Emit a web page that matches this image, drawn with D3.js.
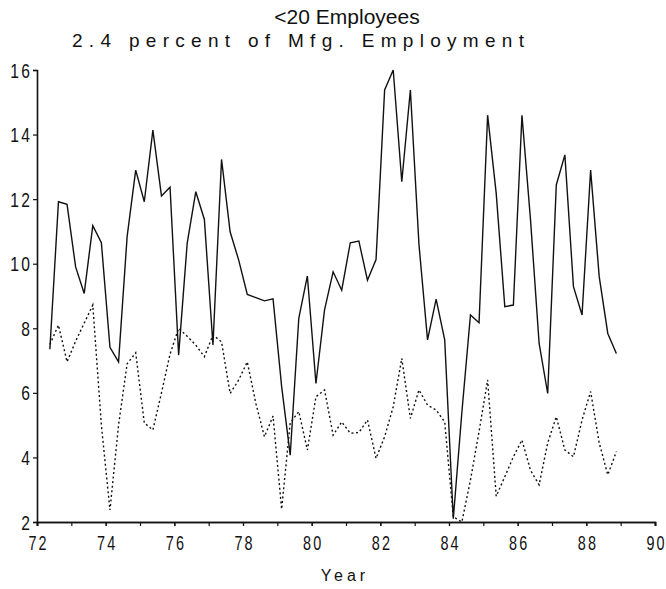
<!DOCTYPE html>
<html><head><meta charset="utf-8">
<script src="https://cdn.jsdelivr.net/npm/d3@7"></script>
<style>
body{margin:0;background:#fff;}
svg{display:block;}
.tick text{font-family:"Liberation Sans","DejaVu Sans",sans-serif;font-size:20px;fill:#111;}
</style></head>
<body>
<svg id="chart" width="666" height="589"></svg>
<script>
// Quarterly observations, 1972 Q2 through 1988 Q4 (plotted at quarter midpoints)
const startYear = 72.375;
const solidSeries = [7.35, 11.92, 11.84, 9.9, 9.08, 11.18, 10.65, 7.41, 6.96, 10.84,
  12.9, 11.92, 14.14, 12.1, 12.37, 7.17, 10.64, 12.23, 11.37, 7.48,
  13.23, 10.99, 10.11, 9.05, 8.95, 8.85, 8.91, 6.2, 4.07, 8.31,
  9.62, 6.29, 8.57, 9.75, 9.18, 10.65, 10.7, 9.49, 10.13, 15.38,
  16.0, 12.54, 15.38, 10.6, 7.64, 8.9, 7.64, 2.1, 5.4, 8.41,
  8.17, 14.6, 12.18, 8.67, 8.72, 14.6, 11.35, 7.53, 5.98, 12.44,
  13.37, 9.29, 8.41, 12.9, 9.6, 7.84, 7.22];
const dottedSeries = [7.5, 8.1, 6.96, 7.6, 8.16, 8.72, 5.0, 2.37, 5.0, 6.9,
  7.24, 5.07, 4.85, 6.0, 7.2, 8.0, 7.75, 7.48, 7.12, 7.79,
  7.58, 5.98, 6.4, 6.96, 5.67, 4.64, 5.28, 2.4, 5.07, 5.42,
  4.23, 5.88, 6.09, 4.69, 5.1, 4.75, 4.77, 5.16, 3.97, 4.64,
  5.57, 7.07, 5.21, 6.09, 5.62, 5.47, 5.1, 2.16, 2.0, 3.3,
  4.8, 6.4, 2.8, 3.4, 4.02, 4.54, 3.6, 3.15, 4.45, 5.26,
  4.23, 4.02, 5.16, 6.04, 4.45, 3.46, 4.18];
const xTickValues = [72, 74, 76, 78, 80, 82, 84, 86, 88, 90];
const xMinorTicks = [72,73,74,75,76,77,78,79,80,81,82,83,84,85,86,87,88,89,90];
const yTickValues = [2, 4, 6, 8, 10, 12, 14, 16];
const titleText = "<20 Employees";
const subtitleText = "2.4 percent of Mfg. Employment";
const xLabel = "Year";

const svg = d3.select("#chart");
const x = d3.scaleLinear().domain([72, 90]).range([37, 655]);
const y = d3.scaleLinear().domain([2, 16]).range([522, 70]);
const yearOf = i => startYear + 0.25 * i;
const narrowX = 0.72, narrowY = 0.78;

// axes
const xAxisMinor = d3.axisBottom(x).tickValues(xMinorTicks).tickSize(4).tickFormat("");
const xAxis = d3.axisBottom(x).tickValues(xTickValues).tickSize(4).tickPadding(10).tickFormat(d3.format("d"));
const yAxis = d3.axisLeft(y).tickValues(yTickValues).tickSize(4).tickPadding(3);

const gxm = svg.append("g").attr("transform", `translate(0,${y(2)})`).call(xAxisMinor);
const gx = svg.append("g").attr("transform", `translate(0,${y(2)})`).call(xAxis);
const gy = svg.append("g").attr("transform", `translate(${x(72)},0)`).call(yAxis);
[gxm, gx, gy].forEach(g => {
  g.selectAll("path.domain").attr("stroke", "#111").attr("stroke-width", 1.6);
  g.selectAll(".tick line").attr("stroke", "#111").attr("stroke-width", 1.2);
});
gx.selectAll(".tick text").style("letter-spacing", "3px").attr("dx", "1.5px")
  .attr("transform", `scale(${narrowX},1)`);
gy.selectAll(".tick text").style("letter-spacing", "3px").attr("dy", "0.35em")
  .attr("x", -7 / narrowY + 3).attr("transform", `scale(${narrowY},1)`);

// lines
const line = d3.line().x((d, i) => x(yearOf(i))).y(d => y(d));
svg.append("path").datum(dottedSeries)
  .attr("d", line).attr("fill", "none").attr("stroke", "#111")
  .attr("stroke-width", 1.4).attr("stroke-dasharray", "2,2.6");
svg.append("path").datum(solidSeries)
  .attr("d", line).attr("fill", "none").attr("stroke", "#111")
  .attr("stroke-width", 1.4).attr("stroke-linejoin", "miter");

// titles
svg.append("text").attr("x", 347).attr("y", 24).attr("text-anchor", "middle")
  .style("font-family", "'Liberation Sans', Arial, sans-serif").style("font-size", "21px")
  .style("fill", "#111").text(titleText);
svg.append("text").attr("x", 72).attr("y", 47)
  .attr("textLength", 452).attr("lengthAdjust", "spacing")
  .style("font-family", "'Liberation Sans','DejaVu Sans',sans-serif")
  .style("font-size", "19px")
  .style("fill", "#111").text(subtitleText);
svg.append("text").attr("x", 345).attr("y", 581).attr("text-anchor", "middle")
  .style("font-family", "'Liberation Sans','DejaVu Sans',sans-serif")
  .style("font-size", "16px").style("letter-spacing", "4px")
  .style("fill", "#111").text(xLabel);
</script>
</body></html>
